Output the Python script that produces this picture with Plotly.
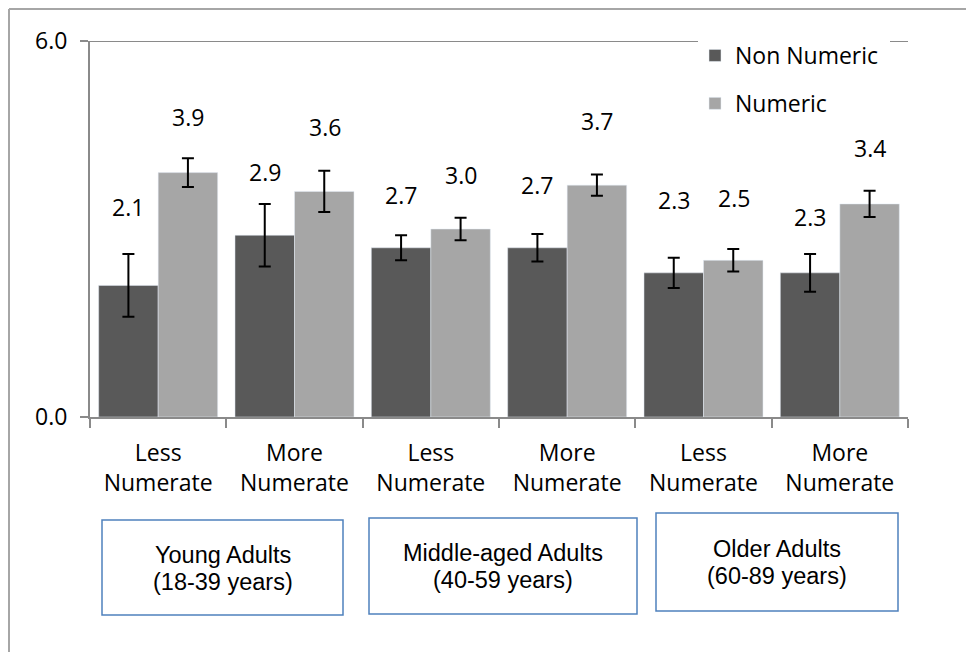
import plotly.graph_objects as go

# ---- data ----
subgroups = ["Less<br>Numerate", "More<br>Numerate", "Less<br>Numerate",
             "More<br>Numerate", "Less<br>Numerate", "More<br>Numerate"]
age_groups = ["Young Adults<br>(18-39 years)", "Middle-aged Adults<br>(40-59 years)",
              "Older Adults<br>(60-89 years)"]
non_numeric = [2.1, 2.9, 2.7, 2.7, 2.3, 2.3]
non_numeric_err = [0.50, 0.50, 0.20, 0.22, 0.24, 0.30]
numeric = [3.9, 3.6, 3.0, 3.7, 2.5, 3.4]
numeric_err = [0.23, 0.33, 0.18, 0.17, 0.18, 0.21]
y_ticks = [0.0, 6.0]

# ---- layout helpers ----
W, H = 966, 652
L, R, T, B = 90, 58, 41, 235
PW, PH = W - L - R, H - T - B


def px(xp):
    return (xp - L) / PW


def py(yp):
    return (H - B - yp) / PH


FONT = "Open Sans"
FS = 23
DARK = "#595959"
LIGHT = "#a6a6a6"
AX = "#8a8a8a"

xpos = list(range(len(subgroups)))

fig = go.Figure()
fig.add_trace(go.Bar(
    x=xpos, y=non_numeric, name="Non Numeric", marker_color=DARK,
    legendgroup="a",
    error_y=dict(type="data", array=non_numeric_err, color="black",
                 thickness=2, width=6),
))
fig.add_trace(go.Bar(
    x=xpos, y=numeric, name="Numeric", marker_color=LIGHT,
    legendgroup="b",
    error_y=dict(type="data", array=numeric_err, color="black",
                 thickness=2, width=6),
))

# value labels (heights above bars)
non_label_y = [3.35, 3.91, 3.54, 3.70, 3.46, 3.19]
num_label_y = [4.79, 4.63, 3.86, 4.72, 3.49, 4.29]
annotations = []
for i in xpos:
    annotations.append(dict(x=i, y=non_label_y[i], xref="x", yref="y",
                            text=f"{non_numeric[i]:.1f}", showarrow=False,
                            xshift=-30, font=dict(family=FONT, size=FS, color="black")))
    annotations.append(dict(x=i, y=num_label_y[i], xref="x", yref="y",
                            text=f"{numeric[i]:.1f}", showarrow=False,
                            xshift=30, font=dict(family=FONT, size=FS, color="black")))

# group boxes
boxes = [(102, 343, 520, 615), (369, 637, 518, 614), (656, 898, 513, 611)]
shapes = []
for (x0, x1, y0, y1), g in zip(boxes, age_groups):
    shapes.append(dict(type="rect", xref="paper", yref="paper",
                       x0=px(x0), x1=px(x1), y0=py(y0), y1=py(y1),
                       line=dict(color="#4f81bd", width=1.5), fillcolor="white"))
    cy = (y0 + y1) / 2
    lines = g.split("<br>")
    for k, line in enumerate(lines):
        annotations.append(dict(x=px((x0 + x1) / 2), y=py(cy - 13 + 27 * k),
                                xref="paper", yref="paper", text=line, showarrow=False,
                                xanchor="center", yanchor="middle",
                                font=dict(family="Liberation Sans", size=23.5, color="black")))

# top reference line at 6.0 (interrupted by the legend)
shapes.append(dict(type="line", xref="paper", yref="y", x0=0, x1=px(698), y0=6, y1=6,
                   line=dict(color=AX, width=2), layer="below"))
shapes.append(dict(type="line", xref="paper", yref="y", x0=px(890), x1=1, y0=6, y1=6,
                   line=dict(color=AX, width=2), layer="below"))

# outer frame (top and left edges visible)
shapes.append(dict(type="line", xref="paper", yref="paper",
                   x0=px(9), x1=px(980), y0=py(9), y1=py(9),
                   line=dict(color="#a6a6a6", width=2)))
shapes.append(dict(type="line", xref="paper", yref="paper",
                   x0=px(9), x1=px(9), y0=py(9), y1=py(670),
                   line=dict(color="#a6a6a6", width=2)))

fig.update_layout(
    width=W, height=H,
    margin=dict(l=L, r=R, t=T, b=B),
    paper_bgcolor="white", plot_bgcolor="white",
    barmode="group", bargap=0.127, bargroupgap=0,
    font=dict(family=FONT, size=FS, color="black"),
    showlegend=True,
    legend=dict(x=px(695), y=py(34), xanchor="left", yanchor="top",
                bgcolor="rgba(0,0,0,0)", tracegroupgap=15,
                font=dict(family=FONT, size=FS, color="black")),
    annotations=annotations,
    shapes=shapes,
)
fig.update_xaxes(
    range=[-0.5, len(subgroups) - 0.5],
    tickmode="array", tickvals=xpos, ticktext=subgroups,
    ticks="", showline=True, linecolor=AX, linewidth=2,
    showgrid=False, zeroline=False,
    minor=dict(ticks="outside", tick0=-0.5, dtick=1, ticklen=9,
               tickcolor=AX, tickwidth=2, showgrid=False),
    ticklabelstandoff=14,
    tickfont=dict(family=FONT, size=FS, color="black"),
)
fig.update_yaxes(
    range=[0, 6], tickmode="array", tickvals=y_ticks,
    ticktext=[f"{v:.1f}" for v in y_ticks],
    ticks="outside", ticklen=8, tickcolor=AX, tickwidth=2,
    showline=True, linecolor=AX, linewidth=2,
    showgrid=False, zeroline=False,
    ticklabelstandoff=8,
    tickfont=dict(family=FONT, size=FS, color="black"),
)

fig.write_html("out.html", config={"displayModeBar": False},
               post_script="document.body.style.margin='0';document.body.style.overflow='hidden';")
